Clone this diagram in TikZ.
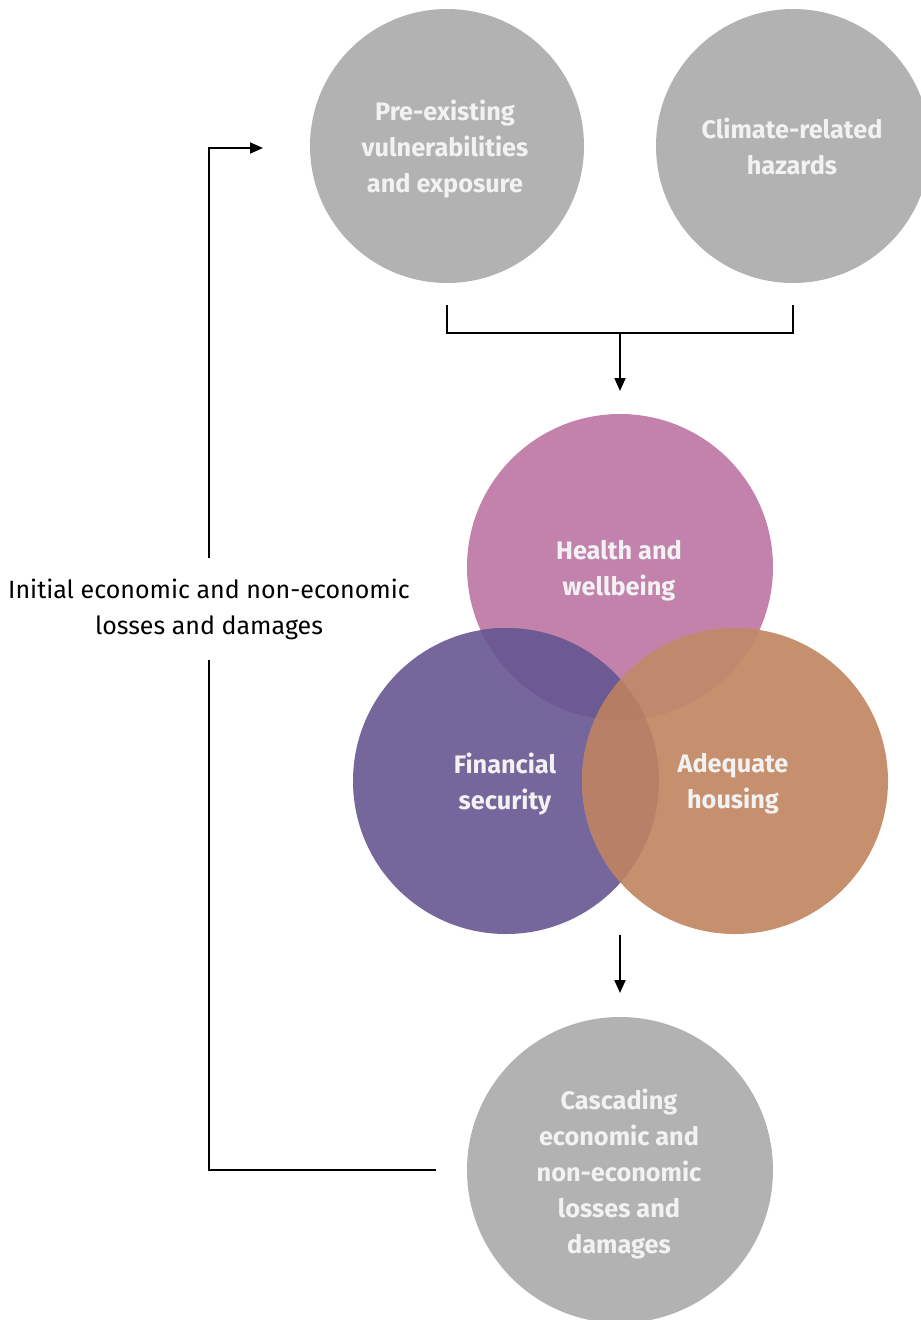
\documentclass[tikz,border=0pt]{standalone}
\usepackage{fontspec}
\setmainfont{Fira Sans}
\usetikzlibrary{arrows.meta}
\definecolor{greyc}{HTML}{B2B2B2}
\definecolor{healthc}{HTML}{C382AC}
\definecolor{finc}{HTML}{75669C}
\definecolor{housec}{HTML}{C6906F}
\definecolor{hfc}{HTML}{6D5A93}
\definecolor{hac}{HTML}{C0886C}
\definecolor{fac}{HTML}{B88167}
\definecolor{hfac}{HTML}{B57D64}
\definecolor{txtc}{HTML}{F2F2F2}
\begin{document}
\begin{tikzpicture}[x=1pt,y=-1pt,
  ctext/.style={text=txtc,font=\fontsize{25.3}{36}\selectfont\bfseries,align=center},
  conn/.style={line width=1.8pt,black},
  arr/.style={conn,-{Triangle[length=13pt,width=11pt]}}]
\useasboundingbox (0,0) rectangle (921,1320);
% top circles
\fill[greyc] (447,146) circle (137);
\fill[greyc] (793,146) circle (137);
\node[ctext] (pre) at (445,149) {Pre-existing\\vulnerabilities\\and exposure};
\node[ctext] (clim) at (792,146) {Climate-related\\hazards};
% venn
\fill[healthc] (620,567) circle (153);
\fill[finc] (506,781) circle (153);
\fill[housec] (735,781) circle (153);
\begin{scope}
  \clip (620,567) circle (153);
  \fill[hfc] (506,781) circle (153);
  \fill[hac] (735,781) circle (153);
\end{scope}
\begin{scope}
  \clip (506,781) circle (153);
  \fill[fac] (735,781) circle (153);
\end{scope}
\begin{scope}
  \clip (620,567) circle (153);
  \clip (506,781) circle (153);
  \fill[hfac] (735,781) circle (153);
\end{scope}
\node[ctext] (health) at (619,571) {Health and\\wellbeing};
\node[ctext] (fin) at (505,784) {Financial\\security};
\node[ctext] (house) at (733,784) {Adequate\\housing};
% bottom circle
\fill[greyc] (620,1170) circle (153);
\node[ctext] (casc) at (619,1174) {Cascading\\economic and\\non-economic\\losses and\\damages};
% connectors
\coordinate (b1) at (447,305);
\coordinate (b2) at (793,305);
\coordinate (bm) at (620,333);
\coordinate (ba) at (620,391);
\draw[conn] (b1) |- (b2 |- bm) -- (b2);
\draw[arr] (bm) -- (ba);
\coordinate (m1) at (620,935);
\coordinate (m2) at (620,993);
\draw[arr] (m1) -- (m2);
\node[font=\fontsize{25}{36}\selectfont,align=center] (lab) at (209,609) {Initial economic and non-economic\\losses and damages};
\coordinate (l1) at (436,1170);
\coordinate (l2) at (209,660);
\coordinate (l3) at (209,558);
\coordinate (l4) at (263,148);
\draw[conn] (l1) -| (l2);
\draw[arr] (l3) |- (l4);
\end{tikzpicture}
\end{document}
